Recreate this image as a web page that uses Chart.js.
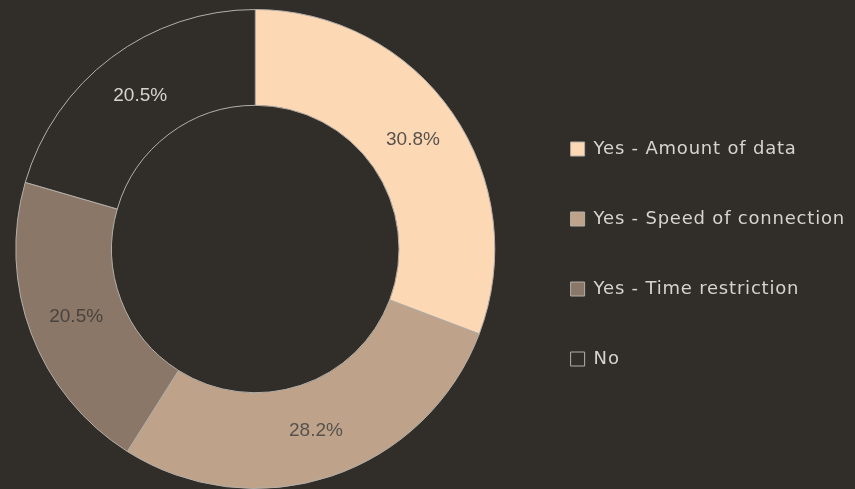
<!DOCTYPE html>
<html>
<head>
<meta charset="utf-8">
<script src="https://cdn.jsdelivr.net/npm/chart.js@4/dist/chart.umd.min.js"></script>
<style>
    html, body { margin: 0; padding: 0; background: #312d29; }
    #wrap { width: 855px; height: 489px; }
</style>
</head>
<body>
<div id="wrap"><canvas id="usageChart"></canvas></div>
<script>
const categories = ['Yes - Amount of data', 'Yes - Speed of connection', 'Yes - Time restriction', 'No'];
const counts = [12, 11, 8, 8];
const sliceColors = ['#fdd8b5', '#bea38a', '#8a7768', '#312d29'];
const labelColors = ['#57524d', '#57524d', '#4a433d', '#d8d3cd'];

// legend text is set a little wider apart
const spacing = {
    id: 'spacing',
    beforeUpdate(chart) { chart.ctx.letterSpacing = '0.8px'; },
    beforeDraw(chart) { chart.ctx.letterSpacing = '0.8px'; }
};

// nudge the ring a few pixels to the left of its default spot
const nudge = {
    id: 'nudge',
    afterLayout(chart) {
        chart.chartArea.left -= 4;
        chart.chartArea.right -= 4;
    }
};

// writes the share of each slice in the middle of its arc
const sliceLabels = {
    id: 'sliceLabels',
    afterDatasetsDraw(chart) {
        const ctx = chart.ctx;
        const meta = chart.getDatasetMeta(0);
        const total = counts.reduce((a, b) => a + b, 0);
        ctx.save();
        ctx.letterSpacing = '0px';
        ctx.font = "19px 'Liberation Sans', sans-serif";
        ctx.textAlign = 'center';
        ctx.textBaseline = 'middle';
        meta.data.forEach((arc, i) => {
            const pos = arc.tooltipPosition();
            ctx.fillStyle = labelColors[i];
            ctx.fillText((counts[i] / total * 100).toFixed(1) + '%', pos.x, pos.y);
        });
        ctx.restore();
    }
};

document.addEventListener('DOMContentLoaded', function() {
    const ctx = document.getElementById('usageChart').getContext('2d');
    new Chart(ctx, {
        type: 'doughnut',
        data: {
            labels: categories,
            datasets: [{
                data: counts,
                backgroundColor: sliceColors,
                borderColor: '#b4afa9',
                borderWidth: 1
            }]
        },
        options: {
            responsive: true,
            maintainAspectRatio: false,
            animation: false,
            cutout: '60%',
            layout: { padding: { top: 9 } },
            plugins: {
                legend: {
                    position: 'right',
                    title: { display: true, text: '', font: { size: 1, lineHeight: 0 }, padding: { top: 10, bottom: 0 } },
                    labels: {
                        color: '#d8d3cd',
                        font: { family: "'DejaVu Sans', sans-serif", size: 18 },
                        boxWidth: 14,
                        boxHeight: 14,
                        padding: 52
                    }
                },
                tooltip: { enabled: false }
            }
        },
        plugins: [spacing, nudge, sliceLabels]
    });
});
</script>
</body>
</html>
